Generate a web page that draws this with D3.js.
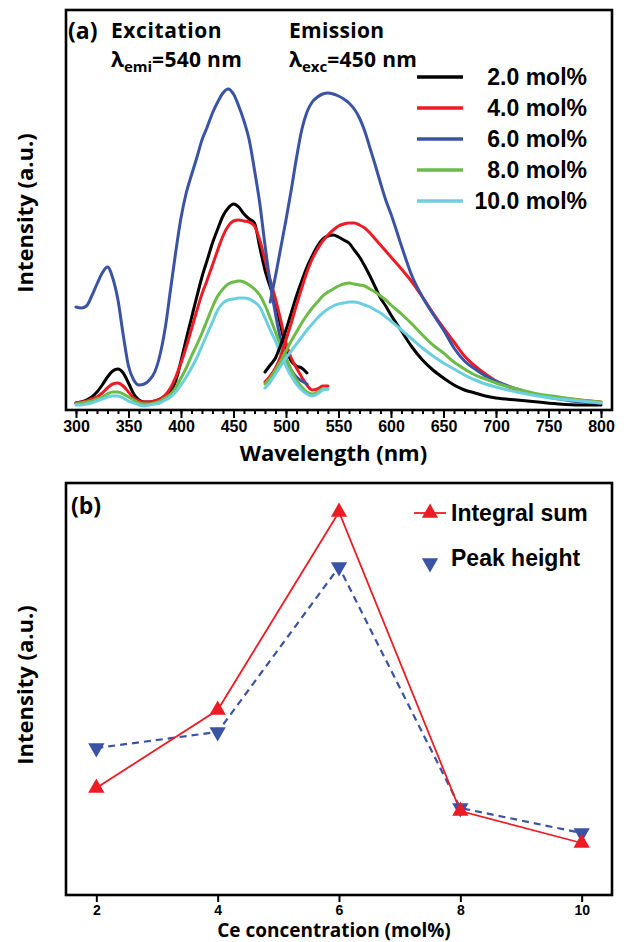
<!DOCTYPE html>
<html>
<head>
<meta charset="utf-8">
<script src="https://cdn.jsdelivr.net/npm/d3@7/dist/d3.min.js"></script>
<style>
  body { margin: 0; background: #fff; }
  svg { display: block; }
  .frame { fill: none; stroke: #000; stroke-width: 2.6; }
  .axis .domain { display: none; }
  .axis line { stroke: #000; stroke-width: 2; }
  .axis text { font-family: 'Liberation Sans', Arial, sans-serif; font-weight: bold; font-size: 16px; fill: #000; }
  .axis-b text { font-size: 14px; }
  .title { font-family: 'Open Sans', sans-serif; font-weight: bold; fill: #000; }
  .legend-text { font-family: 'Liberation Sans', Arial, sans-serif; font-weight: bold; font-size: 23px; fill: #000; }
  .spectrum { fill: none; stroke-width: 3; stroke-linejoin: round; stroke-linecap: round; }
</style>
</head>
<body>
<div id="chart"></div>
<script>
// Panel (a) - excitation and emission spectra (intensity in a.u.)
const seriesNames = ['2.0 mol%', '4.0 mol%', '6.0 mol%', '8.0 mol%', '10.0 mol%']
const seriesColors = ['#000000', '#ed1c24', '#3a53a4', '#6cbb47', '#6ccfe0']

const excWavelengths = [300, 305, 310, 315, 320, 325, 330, 335, 340, 345, 350, 355, 360, 365, 370, 375, 380, 385, 390, 395,
  400, 405, 410, 415, 420, 425, 430, 435, 440, 445, 450, 455, 460, 465, 470, 475, 480, 485, 490, 495,
  500, 505, 510, 515, 520, 525, 530, 535, 540]

const exc2 = [2, 3, 5, 8, 13, 20, 28, 34, 36, 32, 22, 11, 5, 3, 3, 4, 6, 9, 14, 24,
  44, 66, 87, 108, 128, 145, 162, 176, 189, 197, 201, 198, 191, 186, 182, 158, 135, 118, 103, 79,
  58, 44, 39, 37, 32, null, null, null, null]
const exc4 = [2, 3, 4, 6, 8, 12, 17, 21, 22, 19, 13, 7, 4, 3, 3, 4, 6, 10, 17, 28,
  42, 58, 76, 94, 111, 125, 140, 155, 169, 179, 184, 185, 184, 183, 179, 165, 145, 125, 106, 85,
  62, 47, 37, 28, 20, 15, 16, 19, 19]
const exc6 = [98, 97, 99, 109, 121, 132, 138, 127, 105, 70, 39, 25, 20, 21, 25, 33, 50, 77, 115, 153,
  187, 212, 230, 247, 265, 278, 292, 303, 312, 316, 311, 299, 284, 265, 235, 202, 160, 122, 91, 65,
  47, 35, 28, 24, 21, null, null, null, null]
const exc8 = [1, 2, 3, 4, 6, 8, 11, 13, 13, 11, 8, 5, 2, 1, 1, 2, 4, 7, 11, 17,
  27, 37, 49, 60, 72, 85, 98, 109, 116, 121, 123, 124, 123, 120, 116, 110, 100, 87, 73, 59,
  47, 35, 25, 18, 13, 11, 13, 16, 16]
const exc10 = [0, 0, 1, 2, 4, 6, 8, 9, 9, 7, 4, 2, 0, -1, 0, 1, 2, 5, 8, 13,
  20, 28, 37, 47, 59, 71, 83, 95, 102, 105, 106, 107, 107, 106, 103, 98, 87, 75, 64, 51,
  39, 29, 21, 15, 11, 9, 11, 15, 16]

const emiWavelengths = [480, 485, 490, 495, 500, 505, 510, 515, 520, 525, 530, 535, 540, 545, 550, 555, 560, 565, 570, 575,
  580, 585, 590, 595, 600, 610, 620, 630, 640, 650, 660, 670, 680, 690, 700, 720, 740, 760, 780, 800]

const emi2 = [33, 40, 47, 60, 75, 92, 109, 124, 138, 149, 159, 166, 169, 170, 168, 165, 162, 155, 148, 139,
  129, 118, 107, 99, 90, 74, 58, 45, 35, 27, 20, 15, 12, 9, 7, 5, 3, 1, 0, 0]
const emi4 = [23, 29, 37, 49, 65, 82, 100, 117, 133, 146, 156, 164, 170, 175, 179, 181, 182, 182, 180, 177,
  172, 166, 160, 154, 148, 136, 123, 108, 92, 77, 63, 49, 39, 31, 24, 15, 10, 7, 5, 3]
const emi6 = [null, 103, 129, 157, 185, 215, 247, 275, 293, 303, 308, 311, 312, 311, 309, 306, 302, 296, 287, 274,
  257, 240, 222, 205, 191, 159, 129, 108, 91, 75, 57, 44, 36, 29, 24, 16, 10, 6, 3, 2]
const emi8 = [21, 27, 35, 44, 54, 64, 73, 82, 90, 97, 103, 109, 113, 116, 119, 121, 122, 121, 120, 119,
  116, 113, 109, 105, 100, 91, 81, 70, 60, 52, 43, 36, 30, 26, 22, 16, 11, 8, 5, 3]
const emi10 = [17, 23, 31, 39, 47, 54, 61, 68, 75, 81, 87, 92, 96, 99, 101, 102, 103, 103, 102, 100,
  98, 95, 92, 88, 84, 75, 66, 57, 49, 42, 36, 30, 25, 21, 18, 13, 9, 6, 4, 2]

const excSeries = [exc2, exc4, exc6, exc8, exc10]
const emiSeries = [emi2, emi4, emi6, emi8, emi10]

const wavelengthTicks = [300, 350, 400, 450, 500, 550, 600, 650, 700, 750, 800]

// Panel (b) - Ce concentration dependence
const concentrations = [2, 4, 6, 8, 10]
const integralSum = [107, 185, 383, 84, 52]
const peakHeight = [147, 163, 328, 87, 62]

//===========================================================================

const width = 624
const height = 942

const svg = d3.select('#chart')
  .append('svg')
  .attr('width', width)
  .attr('height', height)

//===========================================================================
// Panel (a)

const pa = { left: 66, top: 10, width: 546, height: 400 }

const ga = svg.append('g')
  .attr('transform', `translate(${pa.left}, ${pa.top})`)

const xA = d3.scaleLinear().domain([290.5, 810.5]).range([0, pa.width])
const yA = d3.scaleLinear().domain([-5, 395]).range([pa.height, 0])

// Minor ticks every 10 nm, major every 50 nm (outward)
ga.append('g')
  .attr('class', 'axis')
  .attr('transform', `translate(0, ${pa.height})`)
  .call(d3.axisBottom(xA).tickValues(d3.range(300, 801, 10)).tickSize(4).tickFormat(''))

ga.append('g')
  .attr('class', 'axis')
  .attr('transform', `translate(0, ${pa.height})`)
  .call(d3.axisBottom(xA).tickValues(wavelengthTicks).tickSize(8).tickPadding(3).tickFormat(d3.format('d')))

const spectrumLine = (wl) => d3.line()
  .defined((d) => d != null)
  .x((d, i) => xA(wl[i]))
  .y((d) => yA(d))
  .curve(d3.curveMonotoneX)

// Draw order: black, red, blue, green, cyan
excSeries.forEach((s, i) => {
  ga.append('path')
    .datum(s)
    .attr('class', 'spectrum')
    .attr('stroke', seriesColors[i])
    .attr('d', spectrumLine(excWavelengths))
})

emiSeries.forEach((s, i) => {
  ga.append('path')
    .datum(s)
    .attr('class', 'spectrum')
    .attr('stroke', seriesColors[i])
    .attr('d', spectrumLine(emiWavelengths))
})

ga.append('rect')
  .attr('class', 'frame')
  .attr('width', pa.width)
  .attr('height', pa.height)

// Legend
const legendA = ga.append('g')
seriesNames.forEach((name, i) => {
  const y = 67 + i * 31
  legendA.append('line')
    .attr('x1', 351).attr('x2', 397)
    .attr('y1', y).attr('y2', y)
    .attr('stroke', seriesColors[i])
    .attr('stroke-width', 3.5)
  legendA.append('text')
    .attr('class', 'legend-text')
    .attr('x', 521)
    .attr('y', y + 8)
    .attr('text-anchor', 'end')
    .text(name)
})

// Annotations
svg.append('text').attr('class', 'title').attr('x', 68).attr('y', 39).attr('font-size', 23).text('(a)')
svg.append('text').attr('class', 'title').attr('x', 111).attr('y', 38).attr('font-size', 21)
  .attr('letter-spacing', 0.6).text('Excitation')
svg.append('text').attr('class', 'title').attr('x', 289).attr('y', 38).attr('font-size', 21)
  .attr('letter-spacing', 0.3).text('Emission')

const subLabel = (x, sub, rest) => {
  const t = svg.append('text').attr('class', 'title').attr('x', x).attr('y', 67).attr('font-size', 21)
  t.append('tspan').text('λ')
  t.append('tspan').attr('font-size', 15).attr('dy', 5).text(sub)
  t.append('tspan').attr('dy', -5).attr('letter-spacing', 0.3).text(rest)
}
subLabel(111, 'emi', '=540 nm')
subLabel(289, 'exc', '=450 nm')

svg.append('text')
  .attr('class', 'title')
  .attr('x', pa.left + xA(550) - 5)
  .attr('y', 461)
  .attr('text-anchor', 'middle')
  .attr('font-size', 22)
  .text('Wavelength (nm)')

svg.append('text')
  .attr('class', 'title')
  .attr('transform', `translate(33, ${pa.top + pa.height / 2 + 3}) rotate(-90)`)
  .attr('text-anchor', 'middle')
  .attr('font-size', 22)
  .text('Intensity (a.u.)')

//===========================================================================
// Panel (b)

const pb = { left: 66, top: 483, width: 546, height: 412 }

const gb = svg.append('g')
  .attr('transform', `translate(${pb.left}, ${pb.top})`)

const xB = d3.scaleLinear().domain([1.5, 10.5]).range([0, pb.width])
const yB = d3.scaleLinear().domain([0, 412]).range([pb.height, 0])

gb.append('g')
  .attr('class', 'axis axis-b')
  .attr('transform', `translate(0, ${pb.height})`)
  .call(d3.axisBottom(xB).tickValues(concentrations).tickSize(7).tickPadding(3).tickFormat(d3.format('d')))

const pointLine = d3.line()
  .x((d, i) => xB(concentrations[i]))
  .y((d) => yB(d))

gb.append('path')
  .datum(peakHeight)
  .attr('fill', 'none')
  .attr('stroke', '#3a53a4')
  .attr('stroke-width', 2.2)
  .attr('stroke-dasharray', '7,5')
  .attr('d', pointLine)

gb.append('path')
  .datum(integralSum)
  .attr('fill', 'none')
  .attr('stroke', '#ed1c24')
  .attr('stroke-width', 1.8)
  .attr('d', pointLine)

const triangle = d3.symbol().type(d3.symbolTriangle).size(115)

gb.selectAll('.mark-peak')
  .data(peakHeight)
  .join('path')
  .attr('class', 'mark-peak')
  .attr('fill', '#3a53a4')
  .attr('d', triangle)
  .attr('transform', (d, i) => `translate(${xB(concentrations[i])}, ${yB(d)}) rotate(180)`)

gb.selectAll('.mark-sum')
  .data(integralSum)
  .join('path')
  .attr('class', 'mark-sum')
  .attr('fill', '#ed1c24')
  .attr('d', triangle)
  .attr('transform', (d, i) => `translate(${xB(concentrations[i])}, ${yB(d)})`)

gb.append('rect')
  .attr('class', 'frame')
  .attr('width', pb.width)
  .attr('height', pb.height)

// Legend
gb.append('line')
  .attr('x1', 348).attr('x2', 380)
  .attr('y1', 30).attr('y2', 30)
  .attr('stroke', '#ed1c24')
  .attr('stroke-width', 1.8)
gb.append('path')
  .attr('fill', '#ed1c24')
  .attr('d', triangle)
  .attr('transform', 'translate(364, 30)')
gb.append('text')
  .attr('class', 'legend-text')
  .attr('x', 385).attr('y', 38)
  .text('Integral sum')

gb.append('path')
  .attr('fill', '#3a53a4')
  .attr('d', triangle)
  .attr('transform', 'translate(364, 80) rotate(180)')
gb.append('text')
  .attr('class', 'legend-text')
  .attr('x', 385).attr('y', 83)
  .text('Peak height')

svg.append('text').attr('class', 'title').attr('x', 71).attr('y', 514).attr('font-size', 23).text('(b)')

svg.append('text')
  .attr('class', 'title')
  .attr('x', pb.left + xB(6) - 5)
  .attr('y', 937)
  .attr('text-anchor', 'middle')
  .attr('font-size', 19)
  .text('Ce concentration (mol%)')

svg.append('text')
  .attr('class', 'title')
  .attr('transform', `translate(33, ${pb.top + pb.height / 2 - 4}) rotate(-90)`)
  .attr('text-anchor', 'middle')
  .attr('font-size', 22)
  .text('Intensity (a.u.)')
</script>
</body>
</html>
